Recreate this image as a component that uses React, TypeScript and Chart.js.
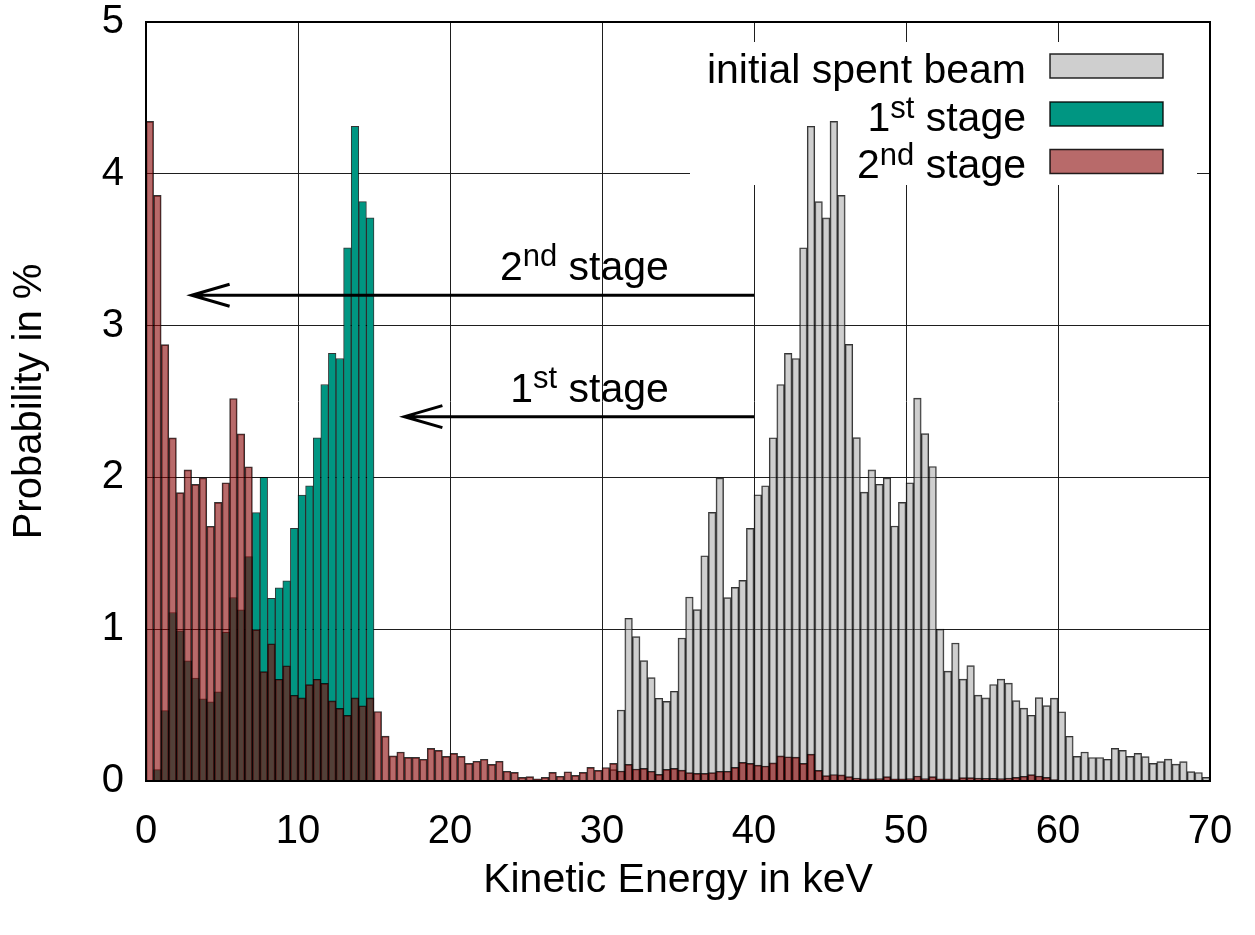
import React, { useEffect, useRef } from "react";
import { Chart, registerables } from "chart.js";

Chart.register(...registerables);

// ---------- data ----------
const X_TICKS = [0, 10, 20, 30, 40, 50, 60, 70];
const Y_TICKS = [0, 1, 2, 3, 4, 5];
const BIN_WIDTH_KEV = 0.5;

// initial spent beam, bins starting at 30.5 keV (0.5 keV wide)
const INITIAL_START_KEV = 30.5;
const initialSpentBeam = [
  0.075,
  0.468, 1.072, 0.951, 0.793, 0.681, 0.545, 0.525, 0.591, 0.942, 1.212,
  1.129, 1.484, 1.770, 1.996, 1.208, 1.276, 1.322, 1.664, 1.886, 1.945,
  2.261, 2.612, 2.817, 2.783, 3.513, 4.313, 3.817, 3.710, 4.345, 3.858,
  2.876, 2.262, 1.903, 2.050, 1.955, 1.996, 1.680, 1.835, 1.965, 2.522,
  2.288, 2.072, 1.000, 0.724, 0.909, 0.671, 0.760, 0.566, 0.548, 0.636,
  0.671, 0.645, 0.529, 0.480, 0.433, 0.549, 0.497, 0.546, 0.456, 0.295,
  0.162, 0.191, 0.155, 0.155, 0.143, 0.215, 0.202, 0.162, 0.182, 0.161,
  0.116, 0.128, 0.144, 0.111, 0.128, 0.062, 0.056, 0.024,
];

// after 1st stage, bins starting at 0.5 keV
const FIRST_STAGE_START_KEV = 0.5;
const firstStage = [
  0.075, 0.464, 1.110, 0.990, 0.791, 0.678, 0.542, 0.522, 0.588, 0.980,
  1.209, 1.128, 1.478, 1.768, 2.000, 1.203, 1.272, 1.319, 1.664, 1.884,
  1.945, 2.261, 2.612, 2.817, 2.783, 3.513, 4.313, 3.817, 3.710,
];

// after 2nd stage, bins starting at 0 keV
const SECOND_STAGE_START_KEV = 0;
const secondStage = [
  4.345, 3.858, 2.875, 2.260, 1.900, 2.050, 1.954, 1.997, 1.678, 1.835,
  1.965, 2.520, 2.287, 2.070, 0.997, 0.720, 0.904, 0.670, 0.759, 0.565,
  0.548, 0.635, 0.670, 0.643, 0.528, 0.478, 0.432, 0.548, 0.496, 0.548,
  0.458, 0.296, 0.165, 0.191, 0.156, 0.156, 0.143, 0.215, 0.202, 0.162,
  0.182, 0.162, 0.116, 0.130, 0.143, 0.110, 0.130, 0.064, 0.057, 0.024,
  0.029, 0.015, 0.024, 0.057, 0.031, 0.061, 0.037, 0.057, 0.090, 0.070,
  0.089, 0.116, 0.066, 0.110, 0.079, 0.083, 0.064, 0.044, 0.077, 0.083,
  0.072, 0.055, 0.050, 0.050, 0.055, 0.064, 0.064, 0.090, 0.123, 0.116,
  0.105, 0.099, 0.119, 0.165, 0.160, 0.157, 0.116, 0.177, 0.070, 0.035,
  0.043, 0.040, 0.029, 0.020, 0.015, 0.015, 0.016, 0.029, 0.015, 0.014,
  0.016, 0.033, 0.016, 0.029, 0.015, 0.014, 0.010, 0.022, 0.022, 0.020,
  0.018, 0.018, 0.016, 0.020, 0.024, 0.031, 0.042, 0.033, 0.024, 0.010,
  0.005,
];

type Part = [string, boolean]; // [text, superscript]
const SERIES_LABELS = ["initial spent beam", "1st stage", "2nd stage"];
const LEGEND_TEXT: Part[][] = [
  [["initial spent beam", false]],
  [["1", false], ["st", true], [" stage", false]],
  [["2", false], ["nd", true], [" stage", false]],
];

const ARROWS = [
  { fromKeV: 40, toKeV: 3, y: 3.2, labelRightKeV: 34.4, labelY: 3.3, text: LEGEND_TEXT[2] },
  { fromKeV: 40, toKeV: 17, y: 2.4, labelRightKeV: 34.4, labelY: 2.5, text: LEGEND_TEXT[1] },
];

const X_TITLE = "Kinetic Energy in keV";
const Y_TITLE = "Probability in %";

// ---------- style ----------
const FONT = "'Liberation Sans', Arial, Helvetica, sans-serif";
const GRAY_FILL = "rgba(160,160,160,0.5)";
const GREEN_FILL = "#009682";
const RED_FILL = "rgba(137,7,7,0.6)";
const BAR_BORDER = "rgba(0,0,0,0.8)";
const GRID = "#1e1e1e";

const toPoints = (start: number, values: number[]) =>
  values.map((v, i) => ({ x: start + BIN_WIDTH_KEV * (i + 0.5), y: v }));

function drawRich(ctx: CanvasRenderingContext2D, parts: Part[], xRight: number, baseline: number, size: number, raise: number) {
  const supSize = Math.round(size * 0.76);
  const fontOf = (sup: boolean) => `${sup ? supSize : size}px ${FONT}`;
  let total = 0;
  for (const [t, sup] of parts) {
    ctx.font = fontOf(sup);
    total += ctx.measureText(t).width;
  }
  let x = xRight - total;
  ctx.textAlign = "left";
  ctx.textBaseline = "alphabetic";
  ctx.fillStyle = "#000";
  for (const [t, sup] of parts) {
    ctx.font = fontOf(sup);
    ctx.fillText(t, x, sup ? baseline - raise : baseline);
    x += ctx.measureText(t).width;
  }
}

const overlayPlugin = {
  id: "overlay",
  beforeDatasetsDraw(chart: any) {
    const { ctx } = chart;
    // key area hides the grid behind it
    ctx.save();
    ctx.fillStyle = "#fff";
    ctx.fillRect(690, 42, 1197 - 690, 185 - 42);
    ctx.restore();
  },
  afterDatasetsDraw(chart: any) {
    const { ctx, chartArea, scales } = chart;
    const xs = scales.x;
    const ys = scales.y;
    ctx.save();
    // frame
    ctx.strokeStyle = "#000";
    ctx.lineWidth = 2;
    ctx.strokeRect(chartArea.left, chartArea.top, chartArea.right - chartArea.left, chartArea.bottom - chartArea.top);

    // arrows + labels
    for (const a of ARROWS) {
      const x0 = xs.getPixelForValue(a.fromKeV);
      const x1 = xs.getPixelForValue(a.toKeV);
      const y = ys.getPixelForValue(a.y);
      ctx.strokeStyle = "#000";
      ctx.lineWidth = 3;
      ctx.beginPath();
      ctx.moveTo(x0, y);
      ctx.lineTo(x1, y);
      ctx.moveTo(x1 + 38, y - 11);
      ctx.lineTo(x1, y);
      ctx.lineTo(x1 + 38, y + 11);
      ctx.stroke();
      drawRich(ctx, a.text, xs.getPixelForValue(a.labelRightKeV), ys.getPixelForValue(a.labelY), 41, 14);
    }

    // key
    const fills = [GRAY_FILL, GREEN_FILL, RED_FILL];
    const baselines = [82.5, 130.5, 178];
    for (let i = 0; i < 3; i++) {
      drawRich(ctx, LEGEND_TEXT[i], 1026, baselines[i], 41, 13);
      const cy = baselines[i] - 16.5;
      ctx.fillStyle = "#fff";
      ctx.fillRect(1050, cy - 12, 113, 24);
      ctx.fillStyle = fills[i];
      ctx.fillRect(1050, cy - 12, 113, 24);
      ctx.strokeStyle = "rgba(0,0,0,0.85)";
      ctx.lineWidth = 1.5;
      ctx.strokeRect(1050, cy - 12, 113, 24);
    }
    ctx.restore();
  },
};

export default function App() {
  const ref = useRef<HTMLCanvasElement | null>(null);
  useEffect(() => {
    if (!ref.current) return;
    const tickFont = { family: FONT, size: 40, lineHeight: 1 };
    const titleFont = { family: FONT, size: 41, lineHeight: 1 };
    const common = { grouped: false, barPercentage: 1, categoryPercentage: 1, borderWidth: 1, borderColor: BAR_BORDER };
    const chart = new Chart(ref.current, {
      type: "bar",
      data: {
        datasets: [
          { label: SERIES_LABELS[0], data: toPoints(INITIAL_START_KEV, initialSpentBeam), backgroundColor: GRAY_FILL, order: 3, ...common },
          { label: SERIES_LABELS[1], data: toPoints(FIRST_STAGE_START_KEV, firstStage), backgroundColor: GREEN_FILL, order: 2, ...common },
          { label: SERIES_LABELS[2], data: toPoints(SECOND_STAGE_START_KEV, secondStage), backgroundColor: RED_FILL, order: 1, ...common },
        ] as any,
      },
      options: {
        animation: false,
        responsive: false,
        devicePixelRatio: 1,
        layout: { padding: { left: 0, top: 22, right: 45, bottom: 0 } },
        plugins: { legend: { display: false }, tooltip: { enabled: false } },
        events: [],
        scales: {
          x: {
            type: "linear",
            min: 0,
            max: 70,
            offset: false,
            afterBuildTicks: (s: any) => { s.ticks = X_TICKS.map((v) => ({ value: v })); },
            afterFit: (s: any) => {
              s.height = 154;
              s.paddingLeft = 0; s.paddingRight = 0; s.paddingTop = 0; s.paddingBottom = 0;
            },
            ticks: { padding: 31, font: tickFont, color: "#000", maxRotation: 0, autoSkip: false },
            grid: { color: GRID, lineWidth: 1, drawTicks: false, offset: false },
            border: { display: false },
            title: { display: true, text: X_TITLE, color: "#000", font: titleFont, padding: { top: 0, bottom: 34 } },
          },
          y: {
            type: "linear",
            min: 0,
            max: 5,
            afterBuildTicks: (s: any) => { s.ticks = Y_TICKS.map((v) => ({ value: v })); },
            afterFit: (s: any) => {
              s.width = 146;
              s.paddingLeft = 0; s.paddingRight = 0; s.paddingTop = 0; s.paddingBottom = 0;
            },
            ticks: { padding: 22, font: tickFont, color: "#000" },
            grid: { color: GRID, lineWidth: 1, drawTicks: false },
            border: { display: false },
            title: { display: true, text: Y_TITLE, color: "#000", font: { family: FONT, size: 40, lineHeight: 1 }, padding: { top: 10, bottom: 0 } },
          },
        },
      } as any,
      plugins: [overlayPlugin],
    });
    return () => chart.destroy();
  }, []);
  return (
    <div style={{ position: "absolute", left: 0, top: 0, width: 1255, height: 935, background: "#fff" }}>
      <canvas ref={ref} width={1255} height={935} style={{ width: 1255, height: 935, display: "block" }} />
    </div>
  );
}
